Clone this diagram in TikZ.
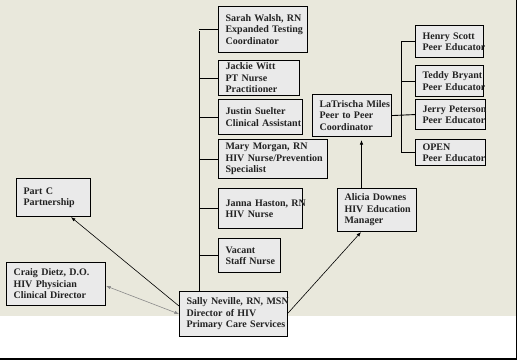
\documentclass[tikz,border=0pt]{standalone}
\usepackage{fontspec}
\setmainfont{Liberation Serif}
\usetikzlibrary{arrows.meta}
\hyphenpenalty=10000\relax
\exhyphenpenalty=10000\relax
\hbadness=10000\relax
\hfuzz=100pt\relax
\definecolor{bgbeige}{HTML}{E9E8DC}
\definecolor{boxfill}{HTML}{EAEAEA}
\definecolor{txtcol}{HTML}{222222}
\definecolor{dimline}{HTML}{8A8A8A}
\newcommand\orgbox[6]{\node[orgnode, text width=#4pt, minimum height=#5pt] (#1) at (#2,#3) {#6};}
\begin{document}
\begin{tikzpicture}[x=1pt,y=-1pt,
  orgnode/.style={draw=black, line width=1.1pt, fill=boxfill, anchor=north west,
    inner xsep=7pt, inner ysep=1pt, align=left, text=txtcol,
    font=\fontsize{10}{11.5}\selectfont\bfseries},
  orgline/.style={draw=black, line width=0.9pt},
  arrowline/.style={draw=black, line width=0.6pt, -{Latex[length=4.5pt,width=3.5pt]}},
  dimarrow/.style={draw=dimline, line width=0.6pt, {Latex[length=4.5pt,width=3.5pt]}-{Latex[length=4.5pt,width=3.5pt]}}]
\useasboundingbox (0,0) rectangle (517,360);
\fill[white] (0,0) rectangle (517,360);
\fill[bgbeige] (0,0) rectangle (516,315.5);
\fill[black] (515.5,0) rectangle (517,360);
\fill[black] (0,357.5) rectangle (517,360);
% boxes
\orgbox{sarah}{218}{6}{75}{46}{Sarah~Walsh,~RN\\Expanded~Testing\\Coordinator}
\orgbox{jackie}{218}{60}{67}{35}{Jackie~Witt\\PT~Nurse\\Practitioner}
\orgbox{justin}{218}{99}{70}{35}{Justin~Suelter\\Clinical~Assistant}
\orgbox{mary}{218}{139}{95}{39}{Mary~Morgan,~RN\\HIV~Nurse/Prevention\\Specialist}
\orgbox{janna}{218}{188}{70}{40}{Janna~Haston,~RN\\HIV~Nurse}
\orgbox{vacant}{218}{238}{48}{34}{Vacant\\Staff~Nurse}
\orgbox{sally}{179}{291}{94}{45}{Sally~Neville,~RN,~MSN\\Director~of~HIV\\Primary~Care~Services}
\orgbox{partc}{16}{178}{60}{38}{Part~C\\Partnership}
\orgbox{craig}{6}{262}{85}{43}{Craig~Dietz,~D.O.\\HIV~Physician\\Clinical~Director}
\orgbox{alicia}{337}{188}{65}{43}{Alicia~Downes\\HIV~Education\\Manager}
\orgbox{latrischa}{312}{94}{65}{42}{LaTrischa~Miles\\Peer~to~Peer\\Coordinator}
\orgbox{henry}{415}{25}{54}{32}{Henry~Scott\\Peer~Educator}
\orgbox{teddy}{415}{65}{54}{31}{Teddy~Bryant\\Peer~Educator}
\orgbox{jerry}{415}{99}{56}{30}{Jerry~Peterson\\Peer~Educator}
\orgbox{open}{415}{139}{56}{26}{OPEN\\Peer~Educator}
% main trunk
\coordinate (trunktop) at (199,31);
\draw[orgline] (trunktop |- sally.north) -- (trunktop);
\foreach \n in {sarah,jackie,justin,mary,janna,vacant}
  \draw[orgline] (\n.west) -- (\n.west -| trunktop);
% peer trunk
\coordinate (peertop) at (401,41);
\draw[orgline] (henry.west -| peertop) -- (open.west -| peertop);
\foreach \n in {henry,teddy,open}
  \draw[orgline] (\n.west) -- (\n.west -| peertop);
\draw[orgline] (latrischa.east) -- (jerry.west);
% arrows
\draw[arrowline, shorten >=3pt] (alicia.north -| 361.5,0) -- (latrischa.south -| 361.5,0);
\draw[arrowline] (sally.west |- 0,306) -- (partc.south -| 71,0);
\draw[arrowline] (sally.east |- 0,313) -- (alicia.south -| 361,0);
\draw[dimarrow] (craig.east |- 0,286) -- (sally.west |- 0,314);
\end{tikzpicture}
\end{document}
